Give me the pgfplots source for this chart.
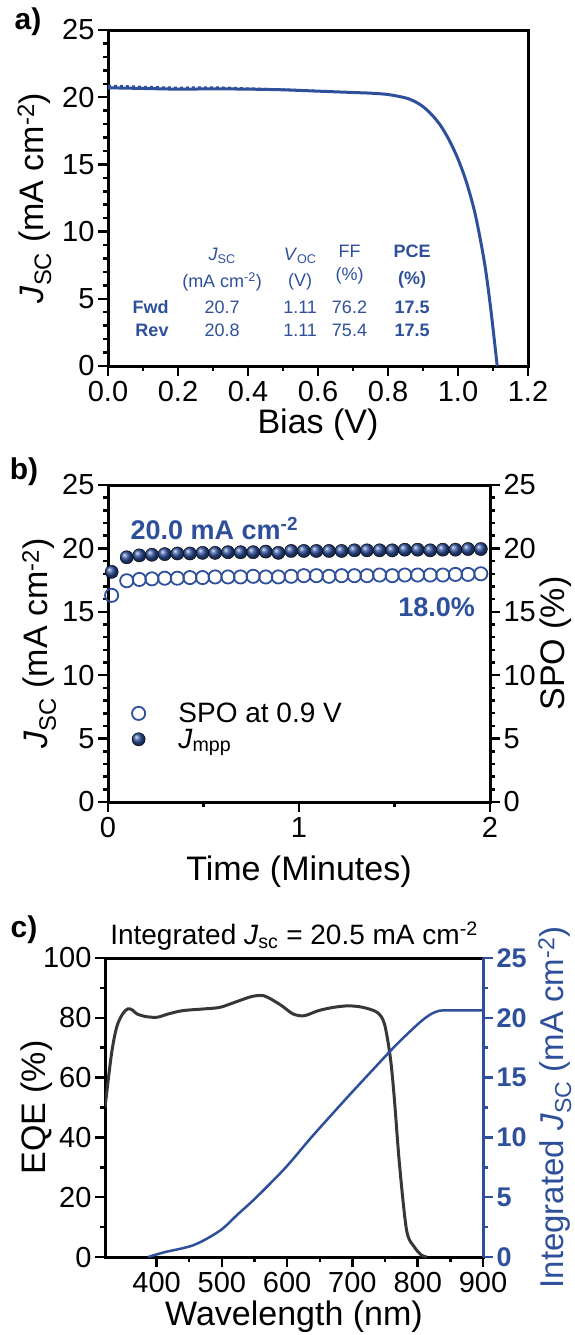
\documentclass[border=0pt]{standalone}
\usepackage{fontspec}
\setmainfont{Liberation Sans}
\usepackage{pgfplots}
\pgfplotsset{compat=1.18}
\definecolor{cblue}{RGB}{46,80,155}
\definecolor{cgray}{RGB}{55,55,55}

\pgfplotsset{
  myax/.style={
    scale only axis,
    axis line style={line width=3pt},
    tick style={line width=2.5pt, black},
    major tick length=10pt, minor tick length=5pt,
    tick align=outside,
    tick label style={font=\fontsize{29}{32}\selectfont},
    xticklabel style={yshift=-2pt},
    label style={font=\fontsize{34}{38}\selectfont},
    /pgf/number format/assume math mode=true,
  }
}

\begin{document}
\begin{tikzpicture}
\useasboundingbox (0,0) rectangle (574pt,-1335pt);

% ---------------- a) J-V
\begin{axis}[myax, at={(108pt,-366pt)}, anchor=south west,
  width=420pt, height=336pt,
  xmin=0, xmax=1.2, ymin=0, ymax=25,
  xtick={0,0.2,0.4,0.6,0.8,1.0,1.2}, minor x tick num=1,
  ytick={0,5,10,15,20,25}, minor y tick num=4,
  xtick pos=bottom, ytick pos=left,
  xticklabel style={/pgf/number format/.cd, fixed, fixed zerofill, precision=1},
  xlabel={Bias (V)},
  ylabel={\textit{J}\textsubscript{SC} (mA cm\textsuperscript{-2})},
  xlabel style={at={(axis description cs:0.5,-0.2)}, anchor=base},
  ylabel style={at={(axis description cs:-0.175,0.5)}, anchor=center},
]
\addplot[cblue, line width=3pt, smooth] coordinates {
  (0,20.7) (0.1,20.65) (0.2,20.6) (0.3,20.62) (0.4,20.6) (0.5,20.55)
  (0.6,20.45) (0.7,20.35) (0.75,20.3) (0.8,20.2) (0.85,19.95) (0.875,19.7)
  (0.9,19.3) (0.925,18.7) (0.95,17.9) (0.975,16.8) (1.0,15.4) (1.025,13.6)
  (1.05,11.2) (1.075,7.8) (1.09,5.0) (1.1,2.8) (1.112,0)
};
\addplot[cblue, line width=2.5pt, dashed, smooth] coordinates {
  (0,20.85) (0.1,20.76) (0.2,20.7) (0.3,20.72) (0.4,20.64) (0.5,20.56)
  (0.6,20.45)
};
\begin{scope}[font=\fontsize{18}{20}\selectfont, text=cblue]
\node at (axis cs:0.326,8.18) {\textit{J}\textsubscript{SC}};
\node at (axis cs:0.549,8.18) {\textit{V}\textsubscript{OC}};
\node at (axis cs:0.69,8.5) {FF};
\node at (axis cs:0.869,8.5) {\bfseries PCE};
\node at (axis cs:0.326,6.25) {(mA cm\textsuperscript{-2})};
\node at (axis cs:0.549,6.25) {(V)};
\node at (axis cs:0.69,6.7) {(\%)};
\node at (axis cs:0.869,6.4) {\bfseries (\%)};
\node[anchor=east] at (axis cs:0.183,4.39) {\bfseries Fwd};
\node at (axis cs:0.326,4.39) {20.7};
\node at (axis cs:0.549,4.39) {1.11};
\node at (axis cs:0.69,4.39) {76.2};
\node at (axis cs:0.869,4.39) {\bfseries 17.5};
\node[anchor=east] at (axis cs:0.183,2.68) {\bfseries Rev};
\node at (axis cs:0.326,2.68) {20.8};
\node at (axis cs:0.549,2.68) {1.11};
\node at (axis cs:0.69,2.68) {75.4};
\node at (axis cs:0.869,2.68) {\bfseries 17.5};
\end{scope}
\end{axis}

% ---------------- b) stabilised output
\begin{axis}[myax, at={(108pt,-802pt)}, anchor=south west,
  width=382pt, height=317pt,
  xmin=0, xmax=2, ymin=0, ymax=25,
  xtick={0,1,2}, minor x tick num=1,
  ytick={0,5,10,15,20,25}, minor y tick num=4,
  xtick pos=bottom, ytick pos=left,
  xlabel={Time (Minutes)},
  ylabel={\textit{J}\textsubscript{SC} (mA cm\textsuperscript{-2})},
  xlabel style={at={(axis description cs:0.5,-0.248)}, anchor=base},
  ylabel style={at={(axis description cs:-0.18,0.5)}, anchor=center},
  legend style={at={(axis description cs:0.054,0.326)}, anchor=north west, draw=none, fill=none,
    font=\fontsize{28}{31}\selectfont, row sep=1pt,
    /tikz/every odd column/.append style={column sep=31pt}},
  legend cell align=left,
]
\addplot[only marks, mark=o, mark size=6.6pt, cblue, mark options={line width=1.8pt}] coordinates {
  (0.019,16.3) (0.098,17.45) (0.164,17.55) (0.230,17.6) (0.297,17.65) (0.363,17.65)
  (0.429,17.7) (0.495,17.7) (0.561,17.75) (0.628,17.75) (0.694,17.75) (0.760,17.8)
  (0.826,17.75) (0.892,17.75) (0.959,17.8) (1.025,17.85) (1.091,17.85) (1.157,17.8)
  (1.223,17.85) (1.290,17.85) (1.356,17.85) (1.422,17.9) (1.488,17.85) (1.554,17.9)
  (1.621,17.9) (1.687,17.9) (1.753,17.9) (1.819,17.95) (1.885,17.95) (1.952,18.0)
};
\addlegendentry{SPO at 0.9 V}
\addplot[only marks, mark=ball, mark size=6.6pt, mark options={ball color=cblue}] coordinates {
  (0.019,18.15) (0.098,19.3) (0.164,19.45) (0.230,19.5) (0.297,19.55) (0.363,19.6)
  (0.429,19.6) (0.495,19.65) (0.561,19.65) (0.628,19.7) (0.694,19.7) (0.760,19.7)
  (0.826,19.75) (0.892,19.65) (0.959,19.8) (1.025,19.8) (1.091,19.8) (1.157,19.8)
  (1.223,19.8) (1.290,19.85) (1.356,19.85) (1.422,19.85) (1.488,19.85) (1.554,19.9)
  (1.621,19.9) (1.687,19.85) (1.753,19.9) (1.819,19.9) (1.885,19.95) (1.952,19.95)
};
\addlegendentry{\textit{J}\textsubscript{mpp}}
\node[anchor=west, text=cblue, font=\bfseries\fontsize{27}{30}\selectfont] at (axis cs:0.1,21.6) {20.0 mA cm\textsuperscript{-2}};
\node[anchor=east, text=cblue, font=\bfseries\fontsize{27}{30}\selectfont] at (axis cs:1.94,15.4) {18.0\%};
\end{axis}
\begin{axis}[myax, at={(108pt,-802pt)}, anchor=south west,
  width=382pt, height=317pt,
  xmin=0, xmax=2, ymin=0, ymax=25,
  axis x line=none, axis y line*=right,
  ytick={0,5,10,15,20,25}, minor y tick num=4,
  ylabel={SPO (\%)},
  ylabel style={at={(axis description cs:1.173,0.5)}, anchor=center},
]
\end{axis}

% ---------------- c) EQE
\begin{axis}[myax, at={(105pt,-1257pt)}, anchor=south west,
  width=378pt, height=299pt,
  xmin=321, xmax=900, ymin=0, ymax=100,
  xtick={400,500,600,700,800,900}, minor x tick num=1,
  ytick={0,20,40,60,80,100}, minor y tick num=1,
  xtick pos=bottom, ytick pos=left,
  xlabel={Wavelength (nm)}, ylabel={EQE (\%)},
  xlabel style={at={(axis description cs:0.5,-0.229)}, anchor=base},
  ylabel style={at={(axis description cs:-0.18,0.5)}, anchor=center},
  title={Integrated \textit{J}\textsubscript{sc} = 20.5 mA cm\textsuperscript{-2}},
  title style={at={(axis description cs:0.5,1)}, anchor=south, yshift=-2pt,
    font=\fontsize{28}{32}\selectfont},
]
\addplot[cgray, line width=3pt, smooth] coordinates {
  (321,50) (331,68) (339,77) (348,81.3) (356,83) (363,82.6) (370,81.3) (384,80.4)
  (401,80.2) (418,81.3) (440,82.4) (474,83) (497,83.5) (520,85.2) (542,86.9)
  (553,87.4) (564,87.4) (575,86.3) (592,84) (609,81.3) (626,80.7) (648,82.4)
  (671,83.5) (694,84) (716,83.5) (738,81.8) (749,78) (758,66.8) (764,53.5)
  (772,31.2) (783,8.9) (795,3.3) (806,0.6) (814,0)
};
\end{axis}
\begin{axis}[myax, at={(105pt,-1257pt)}, anchor=south west,
  width=378pt, height=299pt,
  xmin=321, xmax=900, ymin=0, ymax=25,
  axis x line=none, axis y line*=right,
  axis line style={cblue},
  ytick style={cblue},
  ytick={0,5,10,15,20,25}, minor y tick num=1,
  yticklabel style={text=cblue, font=\bfseries\fontsize{27}{30}\selectfont},
  ylabel={Integrated \textit{J}\textsubscript{SC} (mA cm\textsuperscript{-2})},
  ylabel style={text=cblue, at={(axis description cs:1.19,0.5)}, anchor=center,
    font=\fontsize{33}{37}\selectfont},
]
\addplot[cblue, line width=2.5pt, smooth] coordinates {
  (387,0) (412,0.4) (457,1.0) (497,2.2) (525,3.6) (553,5.0) (598,7.5) (637,10.0)
  (693,13.4) (749,16.7) (770,17.9) (789,18.9) (805,19.7) (820,20.3) (834,20.6)
  (850,20.62) (900,20.62)
};
\end{axis}

\node[font=\bfseries\fontsize{30}{34}\selectfont, anchor=center] at (28pt,-22pt) {a)};
\node[font=\bfseries\fontsize{30}{34}\selectfont, anchor=center] at (24pt,-472pt) {b)};
\node[font=\bfseries\fontsize{30}{34}\selectfont, anchor=center] at (24pt,-930pt) {c)};
\end{tikzpicture}
\end{document}
